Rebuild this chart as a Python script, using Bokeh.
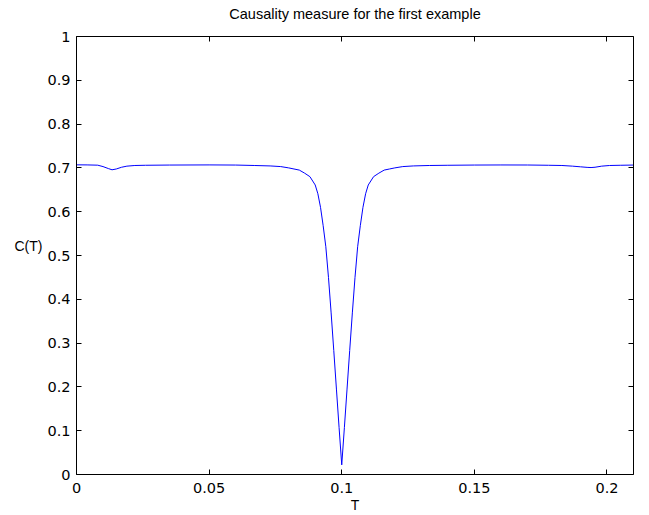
from bokeh.plotting import figure
from bokeh.models import Range1d, FixedTicker, LinearAxis
from bokeh.embed import file_html
from bokeh.resources import INLINE

# ---- data ----
T = [0.000, 0.004, 0.008, 0.010, 0.012, 0.0134, 0.015, 0.017, 0.019, 0.022,
     0.026, 0.035, 0.050, 0.060, 0.067, 0.073, 0.077, 0.080, 0.082, 0.084,
     0.086, 0.088, 0.090, 0.091, 0.092, 0.093, 0.094, 0.095, 0.096, 0.097,
     0.098, 0.099, 0.100, 0.101, 0.102, 0.103, 0.104, 0.105, 0.106, 0.107,
     0.108, 0.109, 0.110, 0.112, 0.114, 0.116, 0.118, 0.120, 0.123, 0.127,
     0.133, 0.140, 0.150, 0.160, 0.170, 0.178, 0.183, 0.187, 0.190, 0.1925,
     0.194, 0.1955, 0.198, 0.201, 0.205, 0.210]
C = [0.7070, 0.7068, 0.7062, 0.7030, 0.6985, 0.6957, 0.6975, 0.7015, 0.7040, 0.7055,
     0.7060, 0.7065, 0.7068, 0.7065, 0.7055, 0.7045, 0.7030, 0.7000, 0.6975, 0.6950,
     0.6880, 0.6800, 0.6610, 0.6410, 0.6100, 0.5680, 0.5200, 0.4500, 0.3690, 0.2830,
     0.1950, 0.1070, 0.0220, 0.1070, 0.1950, 0.2830, 0.3690, 0.4500, 0.5200, 0.5680,
     0.6100, 0.6410, 0.6610, 0.6800, 0.6880, 0.6950, 0.6975, 0.7000, 0.7030, 0.7045,
     0.7055, 0.7060, 0.7065, 0.7067, 0.7066, 0.7060, 0.7055, 0.7040, 0.7025, 0.7012,
     0.7008, 0.7015, 0.7040, 0.7055, 0.7060, 0.7065]

x_ticks = [0, 0.05, 0.1, 0.15, 0.2]
x_tick_labels = ["0", "0.05", "0.1", "0.15", "0.2"]
y_ticks = [0, 0.1, 0.2, 0.3, 0.4, 0.5, 0.6, 0.7, 0.8, 0.9, 1]
y_tick_labels = ["0", "0.1", "0.2", "0.3", "0.4", "0.5", "0.6", "0.7", "0.8", "0.9", "1"]

title_text = "Causality measure for the first example"
x_label = "T"
y_label = "C(T)"

LABEL_FONT = "Liberation Sans"
TICK_FONT = "DejaVu Sans"

p = figure(frame_width=557, frame_height=438,
           x_range=Range1d(0, 0.21), y_range=Range1d(0, 1),
           output_backend="svg", toolbar_location=None,
           min_border_left=76, min_border_right=16,
           min_border_top=36, min_border_bottom=41,
           background_fill_color="white", border_fill_color="white")
p.outline_line_color = None
p.grid.visible = False

p.line(T, C, line_color="#0000ff", line_width=1)


def style_axis(ax, ticks, labels, show_labels=True):
    ax.ticker = FixedTicker(ticks=ticks)
    if show_labels:
        ax.major_label_overrides = dict(zip(ticks, labels))
        ax.major_label_text_font_size = "14.5px"
    else:
        ax.major_label_overrides = {t: "" for t in ticks}
        ax.major_label_text_font_size = "0px"
        ax.major_label_standoff = 0
    ax.major_tick_in = 5
    ax.major_tick_out = 0
    ax.minor_tick_in = 0
    ax.minor_tick_out = 0
    ax.axis_line_color = "black"
    ax.axis_line_width = 1
    ax.major_tick_line_color = "black"
    ax.major_label_text_font = TICK_FONT
    ax.major_label_text_color = "black"
    ax.axis_label_text_font = LABEL_FONT
    ax.axis_label_text_font_size = "14px"
    ax.axis_label_text_font_style = "normal"
    ax.axis_label_text_color = "black"


xb = p.xaxis[0]
yl = p.yaxis[0]
style_axis(xb, x_ticks, x_tick_labels)
style_axis(yl, y_ticks, y_tick_labels)
xb.major_label_standoff = 8
yl.major_label_standoff = 6
xb.axis_label = x_label
xb.axis_label_standoff = 1
# the reference sets its y label slightly above the axis middle:
# an empty second line lifts the first by half a line
yl.axis_label = y_label + "\n "
yl.axis_label_orientation = "horizontal"
yl.axis_label_standoff = 2

# top box edge: mirrored inward ticks, carrying the chart title
xa = LinearAxis()
style_axis(xa, x_ticks, x_tick_labels, show_labels=False)
xa.axis_label = title_text
xa.axis_label_text_font_size = "14.5px"
xa.axis_label_standoff = 15
p.add_layout(xa, "above")

yr = LinearAxis()
style_axis(yr, y_ticks, y_tick_labels, show_labels=False)
p.add_layout(yr, "right")

open("out.html", "w").write(file_html(p, INLINE))
